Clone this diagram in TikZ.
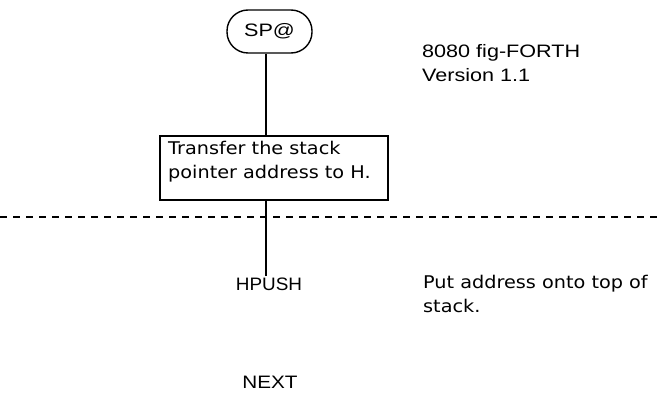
\documentclass[tikz,border=0pt]{standalone}
\usepackage{fontspec}
\usepackage{graphicx}
\setmainfont{Liberation Sans}
\newfontfamily\descfont[FakeStretch=1.1]{DejaVu Sans}
\newfontfamily\widefont[FakeStretch=1.2]{Liberation Sans}
\begin{document}
\begin{tikzpicture}[x=1pt,y=-1pt,
  label/.style={font=\fontsize{18}{20}\selectfont, inner sep=1pt},
  desc/.style={font=\descfont\fontsize{17.5}{24.5}\selectfont, align=left, inner sep=0pt},
  flowline/.style={line width=1.6pt},
  term/.style={draw, line width=1.4pt, rounded corners=21pt, minimum width=85pt, minimum height=43pt, font=\widefont\fontsize{18}{20}\selectfont},
  procbox/.style={draw, line width=1.4pt, minimum width=228pt, minimum height=64pt, inner sep=0pt}]
\useasboundingbox (0,0) rectangle (660,398);
\node[term] (sp) at (269.5,31.5) {SP@};
\node[procbox] (box) at (274,168) {};
\node[desc, anchor=north west] (boxtxt) at (168,141) {Transfer the stack\\pointer address to H.};
\coordinate (lx) at (266,0);
\node[label] (hpush) at (269,284) {\scalebox{1.05}[1]{HPUSH}};
\node[label] (next) at (270,382) {\scalebox{1.15}[1]{NEXT}};
\node[anchor=west, align=left, inner sep=0pt, font=\widefont\fontsize{18}{24}\selectfont] (title) at (422,63) {8080 fig-FORTH\\Version 1.1};
\node[desc, anchor=north west] (put) at (423,275) {Put address onto top of\\stack.};
\draw[flowline] (sp.south -| lx) -- (box.north -| lx);
\draw[flowline] (box.south -| lx) -- (hpush.north -| lx);
\coordinate (dl) at (0,217);
\coordinate (dr) at (660,217);
\draw[line width=1.3pt, dash pattern=on 6.5pt off 6.5pt] (dl) -- (dr);
\end{tikzpicture}
\end{document}
